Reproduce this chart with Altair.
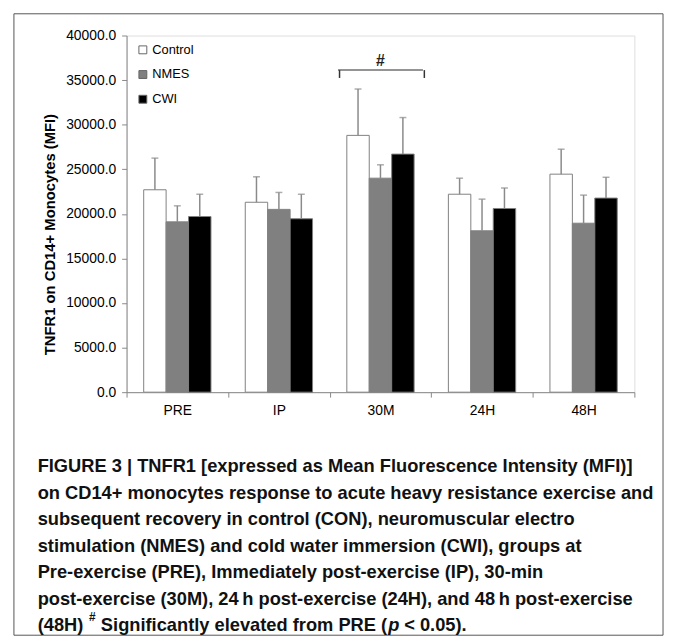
import altair as alt
import pandas as pd

categories = ["PRE", "IP", "30M", "24H", "48H"]
groups = ["Control", "NMES", "CWI"]
control_mean = [22700, 21300, 28800, 22200, 24450]
control_upper = [26250, 24150, 34000, 24000, 27250]
nmes_mean = [19100, 20500, 24000, 18100, 18950]
nmes_upper = [20900, 22400, 25500, 21650, 22100]
cwi_mean = [19700, 19450, 26700, 20600, 21770]
cwi_upper = [22200, 22200, 30800, 22900, 24100]
bar_colors = ["#ffffff", "#808080", "#000000"]
y_ticks = [0, 5000, 10000, 15000, 20000, 25000, 30000, 35000, 40000]
y_title = "TNFR1 on CD14+ Monocytes (MFI)"
sig_group = ["30M"]
sig_label = ["#"]
bracket_top = [36120]
bracket_bottom = [35240]
sig_text_y = [37100]
caption_lines = [
    "FIGURE 3 | TNFR1 [expressed as Mean Fluorescence Intensity (MFI)]",
    "on CD14+ monocytes response to acute heavy resistance exercise and",
    "subsequent recovery in control (CON), neuromuscular electro",
    "stimulation (NMES) and cold water immersion (CWI), groups at",
    "Pre-exercise (PRE), Immediately post-exercise (IP), 30-min",
    "post-exercise (30M), 24\u2009h post-exercise (24H), and 48\u2009h post-exercise",
]
last_line = ["(48H)", "#", "Significantly elevated from PRE (", "p", "< 0.05)."]

FONT = "Liberation Sans, Arial, sans-serif"

rows = []
for i, c in enumerate(categories):
    for g, m, u in zip(groups, [control_mean, nmes_mean, cwi_mean],
                       [control_upper, nmes_upper, cwi_upper]):
        rows.append({"time": c, "group": g, "value": m[i], "upper": u[i]})
df = pd.DataFrame(rows)

sig_df = pd.DataFrame({"time": sig_group, "label": sig_label, "y": bracket_top,
                       "y2": bracket_bottom, "ty": sig_text_y})


def xdef(bp=None):
    kw = {}
    if bp is not None:
        kw["bandPosition"] = bp
    return alt.X("time:N", sort=categories,
                 scale=alt.Scale(domain=categories, paddingInner=0, paddingOuter=0),
                 axis=alt.Axis(title=None, tickBand="extent", labelAngle=0,
                               labelFontSize=14, labelPadding=7, tickSize=5,
                               labelFont=FONT),
                 **kw)


xoff = alt.XOffset("group:N", sort=groups,
                   scale=alt.Scale(domain=groups, paddingInner=0, paddingOuter=0.764))

yscale = alt.Scale(domain=[0, 40000], nice=False)

base = alt.Chart(df)

bars = base.mark_bar(stroke="#808080", strokeWidth=1).encode(
    x=xdef(),
    xOffset=xoff,
    y=alt.Y("value:Q", scale=yscale,
            axis=alt.Axis(values=y_ticks, format=".1f", title=y_title,
                          titleX=-70, titleY=201, titleFontSize=15,
                          titleFontWeight="bold", titleFont=FONT,
                          labelFontSize=14, labelFont=FONT, tickSize=5,
                          labelPadding=6, grid=False)),
    fill=alt.Fill("group:N", sort=groups,
                  scale=alt.Scale(domain=groups, range=bar_colors),
                  legend=alt.Legend(title=None, orient="none", legendX=10, legendY=8,
                                    symbolType="square", symbolSize=64,
                                    symbolStrokeColor="#666666", symbolStrokeWidth=1,
                                    labelFontSize=13, labelFont=FONT, labelOffset=3,
                                    rowPadding=11, padding=0)),
)

err = base.mark_rule(color="#8a8a8a", strokeWidth=1.5).encode(
    x=xdef(), xOffset=xoff, y=alt.Y("value:Q", scale=yscale), y2="upper:Q")

caps = base.mark_tick(color="#8a8a8a", size=7, thickness=1.5).encode(
    x=xdef(), xOffset=xoff, y=alt.Y("upper:Q", scale=yscale))

sig = alt.Chart(sig_df)
br_left = sig.mark_rule(color="#333333", strokeWidth=1.5).encode(
    x=xdef(0.097), y=alt.Y("y:Q", scale=yscale), y2="y2:Q")
br_right = sig.mark_rule(color="#333333", strokeWidth=1.5).encode(
    x=xdef(0.932), y=alt.Y("y:Q", scale=yscale), y2="y2:Q")
br_top = sig.mark_tick(color="#333333", size=86, thickness=1.5).encode(
    x=xdef(0.515), y=alt.Y("y:Q", scale=yscale))
br_text = sig.mark_text(fontSize=16, fontWeight="bold", font=FONT, color="#222222",
                        baseline="middle").encode(
    x=xdef(0.5), y=alt.Y("ty:Q", scale=yscale), text="label:N")

one = pd.DataFrame({"k": [0]})
frame = alt.Chart(one).mark_rect(fillOpacity=0, stroke="#555555", strokeWidth=1).encode(
    x=alt.value(-114), x2=alt.value(543), y=alt.value(-22), y2=alt.value(607))

cap_df = pd.DataFrame({"text": ["\n".join(caption_lines)]})
caption = alt.Chart(cap_df).mark_text(
    align="left", baseline="top", lineBreak="\n", lineHeight=26.8,
    fontSize=18.5, fontWeight="bold", font=FONT, color="#111111").encode(
    x=alt.value(-90), y=alt.value(427), text="text:N")

seg_x = [-90, -38, -26, 265, 281]
seg_y = [588, 584, 588, 588, 588]
seg_size = [18.5, 12, 18.5, 18.5, 18.5]
seg_style = ["normal", "normal", "normal", "italic", "normal"]
last_layers = []
for t, sx, sy, fs, st in zip(last_line, seg_x, seg_y, seg_size, seg_style):
    last_layers.append(
        alt.Chart(pd.DataFrame({"text": [t]})).mark_text(
            align="left", baseline="top", fontSize=fs, fontWeight="bold",
            fontStyle=st, font=FONT, color="#111111").encode(
            x=alt.value(sx), y=alt.value(sy), text="text:N"))

chart = alt.layer(frame, bars, err, caps, br_left, br_right, br_top, br_text,
                  caption, *last_layers).properties(
    width=514, height=361,
    autosize=alt.AutoSizeParams(type="none"),
    padding={"left": 120, "top": 24, "right": 31, "bottom": 248},
).configure_view(stroke=None).configure_axis(
    domainColor="#a6a6a6", tickColor="#a6a6a6", labelColor="#000000",
    titleColor="#000000"
).configure(background="white")

chart.save("out.html", embed_options={"renderer": "svg", "actions": False})
